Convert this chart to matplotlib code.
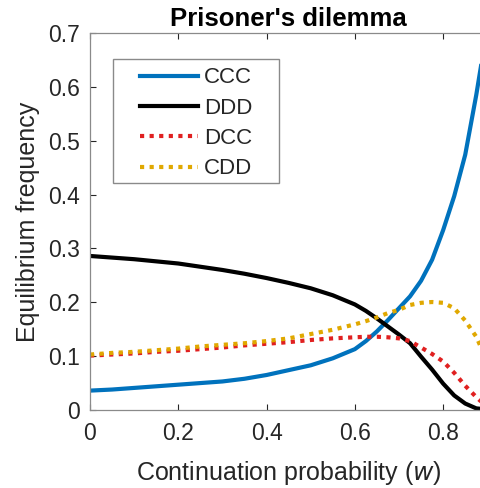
import matplotlib
matplotlib.use("Agg")
import numpy as np
import matplotlib.pyplot as plt
from matplotlib.legend_handler import HandlerLine2D
from matplotlib.patches import Rectangle

plt.rcParams['font.family'] = ['Liberation Sans', 'DejaVu Sans']

w = [0, 0.05, 0.1, 0.15, 0.2, 0.25, 0.3, 0.35, 0.4, 0.45, 0.5, 0.55, 0.6,
     0.625, 0.65, 0.675, 0.7, 0.725, 0.75, 0.775, 0.8, 0.825, 0.85, 0.875, 0.9]
ccc = [0.036, 0.038, 0.041, 0.044, 0.047, 0.050, 0.053, 0.058, 0.065, 0.074,
       0.083, 0.096, 0.113, 0.128, 0.146, 0.167, 0.189, 0.211, 0.240, 0.279,
       0.334, 0.397, 0.474, 0.585, 0.71]
ddd = [0.286, 0.283, 0.280, 0.276, 0.272, 0.266, 0.260, 0.253, 0.245, 0.236,
       0.226, 0.213, 0.196, 0.184, 0.170, 0.155, 0.140, 0.124, 0.099, 0.075,
       0.049, 0.027, 0.012, 0.003, 0.001]
dcc = [0.101, 0.103, 0.105, 0.108, 0.110, 0.113, 0.116, 0.120, 0.123, 0.126,
       0.130, 0.133, 0.135, 0.136, 0.136, 0.135, 0.133, 0.128, 0.116, 0.104,
       0.090, 0.069, 0.045, 0.024, 0.005]
cdd = [0.103, 0.106, 0.108, 0.111, 0.114, 0.118, 0.121, 0.124, 0.128, 0.133,
       0.141, 0.149, 0.159, 0.165, 0.172, 0.180, 0.186, 0.195, 0.199, 0.2005,
       0.199, 0.189, 0.166, 0.136, 0.090]

labels = ['CCC', 'DDD', 'DCC', 'CDD']
xticks = [0, 0.2, 0.4, 0.6, 0.8]
xticklabels = ['0', '0.2', '0.4', '0.6', '0.8']
yticks = [0, 0.1, 0.2, 0.3, 0.4, 0.5, 0.6, 0.7]
yticklabels = ['0', '0.1', '0.2', '0.3', '0.4', '0.5', '0.6', '0.7']


class ShiftedLine(HandlerLine2D):
    """Legend line drawn over the right part of the handle box."""
    def get_xdata(self, legend, xdescent, ydescent, width, height, fontsize):
        x0 = -xdescent + 0.315 * width
        x1 = -xdescent + width
        xs = np.array([x0, x1])
        return xs, xs


fig = plt.figure(figsize=(4.81, 4.88), dpi=100)
ax = fig.add_axes([90/481, 78/488, 397.3/481, 377/488])

gray = '#262626'
dot = (0, (1, 1.3))
ax.plot(w, ccc, color='#0072BD', lw=3, label=labels[0])
ax.plot(w, ddd, color='black', lw=3, label=labels[1])
ax.plot(w, dcc, color='#E02020', lw=3, linestyle=dot, label=labels[2])
ax.plot(w, cdd, color='#E0A800', lw=3, linestyle=dot, label=labels[3])

ax.set_xlim(0, 0.9)
ax.set_ylim(0, 0.7)
ax.set_xticks(xticks)
ax.set_xticklabels(xticklabels)
ax.set_yticks(yticks)
ax.set_yticklabels(yticklabels)
ax.tick_params(direction='in', length=4, width=0.8, colors=gray, labelsize=16.5,
               top=True, right=True)
ax.tick_params(axis='x', pad=9)
ax.tick_params(axis='y', pad=7)
for s in ax.spines.values():
    s.set_color('#8a8a8a')
    s.set_linewidth(0.9)

ax.set_xlabel('Continuation probability ($\\mathit{w}$)', fontsize=18, color=gray, labelpad=10)
ax.set_ylabel('Equilibrium frequency', fontsize=18, color=gray, labelpad=6)
ax.set_title("Prisoner's dilemma", fontsize=18.5, fontweight='bold', pad=5)

# legend box (MATLAB style, wide padding)
ax.add_patch(Rectangle((22.7/397.3, 1 - (183.3-33)/377), 166.3/397.3, 124/377,
                       transform=ax.transAxes, facecolor='white',
                       edgecolor='#8a8a8a', lw=1.0, zorder=4))
handles, labs = ax.get_legend_handles_labels()
leg = ax.legend(handles, labs, loc='upper left',
                bbox_to_anchor=(22.7/397.3, 1 - (67.5-33)/377),
                fontsize=16, frameon=False, handlelength=3.85,
                handletextpad=0.27, labelspacing=0.42, borderpad=0,
                borderaxespad=0, handler_map={plt.Line2D: ShiftedLine()})
leg.set_zorder(5)
for t in leg.get_texts():
    t.set_color(gray)

fig.savefig('out.png', dpi=100)
